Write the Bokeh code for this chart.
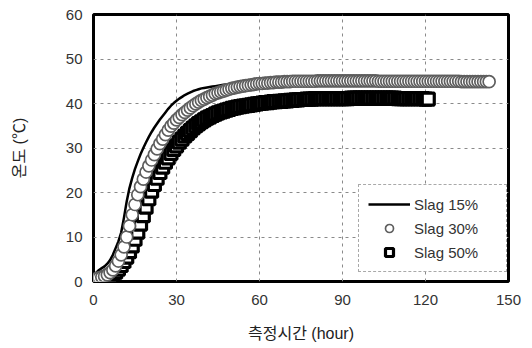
from bokeh.plotting import figure
from bokeh.models import FixedTicker, Legend, LegendItem, ColumnDataSource
from bokeh.embed import file_html
from bokeh.resources import INLINE

# ---- data (hourly readings) ----
hours_15 = list(range(0, 121))
slag15 = [
    0.5, 2.0, 2.6, 3.0, 3.4, 4.0, 4.8, 6.0, 7.5, 9.0,
    11.0, 14.3, 18.0, 21.0, 23.3, 25.3, 27.0, 28.6, 30.0, 31.3,
    32.5, 33.6, 34.6, 35.5, 36.4, 37.2, 38.0, 38.8, 39.5, 40.1,
    40.6, 41.1, 41.5, 41.9, 42.2, 42.5, 42.8, 43.0, 43.2, 43.4,
    43.5, 43.6, 43.7, 43.8, 43.9, 44.0, 44.1, 44.2, 44.3, 44.3,
    44.4, 44.4, 44.4, 44.5, 44.5, 44.5, 44.5, 44.5, 44.5, 44.5,
    44.5, 44.5, 44.5, 44.5, 44.5, 44.5, 44.5, 44.5, 44.5, 44.5,
    44.5, 44.5, 44.5, 44.5, 44.5, 44.5, 44.5, 44.5, 44.5, 44.5,
    44.5, 44.5, 44.5, 44.5, 44.5, 44.5, 44.5, 44.5, 44.5, 44.5,
    44.5, 44.5, 44.5, 44.5, 44.5, 44.5, 44.5, 44.5, 44.5, 44.5,
    44.5, 44.5, 44.5, 44.5, 44.5, 44.5, 44.5, 44.5, 44.5, 44.5,
    44.5, 44.5, 44.5, 44.5, 44.5, 44.5, 44.5, 44.5, 44.5, 44.5,
    44.5,
]

hours_30 = list(range(0, 144))
slag30 = [
    0.5, 0.6, 0.8, 1.0, 1.2, 1.5, 2.0, 2.6, 3.5, 4.6,
    6.0, 7.8, 10.0, 12.5, 15.0, 17.3, 19.5, 21.3, 23.0, 24.6,
    26.0, 27.3, 28.5, 29.8, 31.0, 32.0, 33.0, 34.0, 34.9, 35.6,
    36.3, 36.9, 37.5, 38.0, 38.5, 39.0, 39.5, 39.9, 40.3, 40.7,
    41.0, 41.3, 41.6, 41.9, 42.2, 42.4, 42.6, 42.8, 43.0, 43.2,
    43.4, 43.5, 43.7, 43.8, 43.9, 44.0, 44.1, 44.2, 44.3, 44.4,
    44.5, 44.5, 44.6, 44.6, 44.7, 44.7, 44.8, 44.8, 44.8, 44.9,
    44.9, 44.9, 45.0, 45.0, 45.0, 45.0, 45.0, 45.0, 45.0, 45.0,
    45.0, 45.1, 45.1, 45.1, 45.1, 45.1, 45.1, 45.1, 45.1, 45.1,
    45.1, 45.1, 45.1, 45.1, 45.1, 45.1, 45.1, 45.1, 45.1, 45.1,
    45.1, 45.1, 45.1, 45.0, 45.0, 45.0, 45.0, 45.0, 45.0, 45.0,
    45.0, 45.0, 45.0, 45.0, 45.0, 45.0, 45.0, 45.0, 45.0, 45.0,
    45.0, 45.0, 45.0, 45.0, 45.0, 45.0, 45.0, 45.0, 45.0, 45.0,
    45.0, 45.0, 45.0, 44.9, 44.9, 44.9, 44.9, 44.9, 44.9, 44.9,
    44.9, 44.9, 44.9, 44.9,
]

hours_50 = list(range(0, 122))
slag50 = [
    0.2, 0.3, 0.4, 0.5, 0.7, 0.9, 1.2, 1.6, 2.1, 2.8,
    3.6, 4.5, 5.5, 6.7, 8.0, 9.5, 11.1, 12.9, 14.8, 16.7,
    18.6, 20.3, 21.8, 23.2, 24.5, 25.7, 26.8, 27.8, 28.8, 29.7,
    30.5, 31.3, 32.0, 32.7, 33.3, 33.9, 34.5, 35.0, 35.5, 35.9,
    36.3, 36.7, 37.0, 37.3, 37.6, 37.9, 38.1, 38.3, 38.5, 38.7,
    38.9, 39.0, 39.2, 39.3, 39.4, 39.5, 39.6, 39.7, 39.8, 39.9,
    40.0, 40.1, 40.2, 40.2, 40.3, 40.4, 40.4, 40.5, 40.5, 40.6,
    40.6, 40.7, 40.7, 40.8, 40.8, 40.9, 40.9, 41.0, 41.0, 41.0,
    41.1, 41.1, 41.1, 41.1, 41.1, 41.1, 41.1, 41.1, 41.1, 41.1,
    41.1, 41.1, 41.1, 41.2, 41.2, 41.2, 41.2, 41.2, 41.2, 41.2,
    41.2, 41.2, 41.2, 41.2, 41.2, 41.2, 41.2, 41.2, 41.2, 41.2,
    41.1, 41.1, 41.1, 41.1, 41.1, 41.1, 41.1, 41.1, 41.1, 41.1,
    41.0, 41.0,
]

x_ticks = [0, 30, 60, 90, 120, 150]
y_ticks = [0, 10, 20, 30, 40, 50, 60]
series_labels = ["Slag 15%", "Slag 30%", "Slag 50%"]
x_title = "측정시간 (hour)"
y_title = "온도 (℃)"

LABEL_FONT = "'Liberation Sans', 'Noto Sans CJK KR'"

# ---- figure ----
p = figure(width=532, height=348, x_range=(0, 150), y_range=(0, 60),
           output_backend="svg", toolbar_location=None,
           min_border_left=93, min_border_right=24,
           min_border_top=14, min_border_bottom=67)
p.background_fill_color = "white"
p.border_fill_color = "white"
p.outline_line_color = "black"
p.outline_line_width = 3

for ax, ticks in ((p.xaxis, x_ticks), (p.yaxis, y_ticks)):
    ax.ticker = FixedTicker(ticks=ticks)
    ax.axis_line_color = None
    ax.major_tick_line_color = None
    ax.minor_tick_line_color = None
    ax.major_tick_out = 0
    ax.major_tick_in = 0
    ax.major_label_text_font = "Liberation Sans"
    ax.major_label_text_font_size = "15px"
    ax.major_label_text_color = "#333333"
    ax.axis_label_text_font = LABEL_FONT
    ax.axis_label_text_font_size = "16px"
    ax.axis_label_text_font_style = "normal"
    ax.axis_label_text_color = "#222222"

p.xaxis.axis_label = x_title
p.yaxis.axis_label = y_title
p.xaxis.major_label_standoff = 13
p.xaxis.axis_label_standoff = 17
p.yaxis.major_label_standoff = 11
p.yaxis.axis_label_standoff = 35

p.xgrid.ticker = FixedTicker(ticks=x_ticks)
p.ygrid.ticker = FixedTicker(ticks=y_ticks)
for g in (p.xgrid, p.ygrid):
    g.grid_line_color = "#8a8a8a"
    g.grid_line_dash = "3 4"
    g.grid_line_width = 1

src15 = ColumnDataSource(dict(x=hours_15, y=slag15))
src30 = ColumnDataSource(dict(x=hours_30, y=slag30))
src50 = ColumnDataSource(dict(x=hours_50, y=slag50))

r15 = p.line("x", "y", source=src15, line_color="black", line_width=2.5)
r50 = p.scatter("x", "y", source=src50, marker="square", size=12,
                line_color="black", line_width=3.2, fill_color="white")
r30 = p.scatter("x", "y", source=src30, marker="circle", size=12,
                line_color="#5e5e5e", line_width=1.7, fill_color="white")

legend = Legend(items=[
    LegendItem(label=series_labels[0], renderers=[r15]),
    LegendItem(label=series_labels[1], renderers=[r30]),
    LegendItem(label=series_labels[2], renderers=[r50]),
])
legend.location = (265, 9)
legend.margin = 0
legend.padding = 9
legend.spacing = 4
legend.glyph_width = 42
legend.glyph_height = 20
legend.label_height = 20
legend.label_width = 83
legend.label_standoff = 4
legend.label_text_font = "Liberation Sans"
legend.label_text_font_size = "15px"
legend.label_text_color = "#333333"
legend.border_line_color = "#555555"
legend.border_line_dash = "2 2"
legend.border_line_width = 1
legend.background_fill_color = "white"
legend.background_fill_alpha = 1
p.add_layout(legend, "center")

open("out.html", "w").write(file_html(p, INLINE))
